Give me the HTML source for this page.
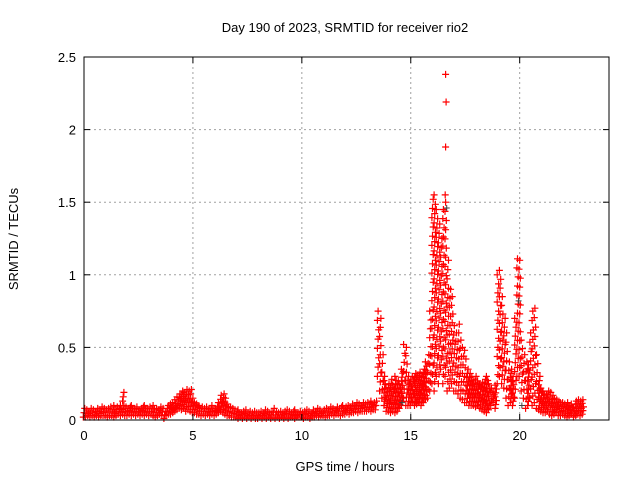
<!DOCTYPE html>
<html><head><meta charset="utf-8"><style>
html,body{margin:0;padding:0;background:#fff}
svg text{font-family:"Liberation Sans",sans-serif;font-size:13px;fill:#000}
</style></head><body>
<svg id="chart" width="640" height="480" viewBox="0 0 640 480" xmlns="http://www.w3.org/2000/svg">
<text x="345" y="32" text-anchor="middle">Day 190 of 2023, SRMTID for receiver rio2</text>
<text x="345" y="471" text-anchor="middle">GPS time / hours</text>
<text transform="translate(18,239) rotate(-90)" text-anchor="middle">SRMTID / TECUs</text>
<g id="grid"></g>
<g id="marks"></g>
<rect x="84" y="57" width="525" height="363" fill="none" stroke="#000" stroke-width="1"/>
<g id="ticks"></g>
</svg>
<script>
const xTicks=[0,5,10,15,20];
const yTicks=[0,0.5,1,1.5,2,2.5];
const yTickLabels=["0","0.5","1","1.5","2","2.5"];
const startHour=0, stepHour=0.1;
const hiVals=[
.08,.07,.06,.08,.07,.06,.08,.07,.09,.08,
.07,.08,.09,.07,.10,.09,.08,.10,.19,.09,
.08,.09,.10,.08,.09,.07,.08,.09,.10,.08,
.09,.08,.10,.08,.07,.09,.08,.06,.08,.10,
.11,.12,.14,.16,.18,.20,.19,.21,.20,.21,
.15,.12,.11,.10,.09,.08,.09,.07,.08,.10,
.08,.09,.12,.17,.18,.15,.11,.09,.08,.07,
.06,.07,.05,.06,.07,.05,.06,.05,.06,.05,
.05,.06,.05,.07,.06,.05,.06,.08,.06,.05,
.06,.05,.06,.07,.06,.05,.06,.07,.05,.06,
.05,.06,.07,.06,.05,.07,.06,.08,.07,.06,
.07,.08,.07,.09,.08,.07,.09,.08,.09,.10,
.09,.10,.09,.11,.10,.12,.11,.10,.12,.11,
.12,.11,.13,.12,.13,.75,.70,.45,.30,.22,
.25,.28,.24,.30,.27,.25,.35,.52,.50,.30,
.28,.30,.32,.31,.33,.30,.35,.40,.45,.75,
1.52,1.55,1.45,1.35,1.25,1.45,1.50,1.10,.90,.85,
.65,.60,.66,.55,.50,.48,.35,.32,.30,.28,
.30,.27,.25,.26,.28,.30,.25,.22,.20,.24,
1.0,1.03,.85,.70,.60,.40,.35,.30,.70,1.11,
1.10,.55,.45,.40,.38,.60,.75,.77,.45,.30,
.22,.20,.18,.20,.19,.17,.15,.14,.13,.12,
.12,.11,.12,.10,.11,.09,.13,.14,.13,.14];
const loVals=[
.02,.02,.03,.02,.03,.02,.03,.02,.03,.03,
.03,.02,.03,.03,.02,.03,.04,.03,.04,.03,
.03,.04,.03,.04,.03,.04,.03,.04,.03,.04,
.03,.04,.03,.02,.03,.04,.03,.01,.03,.04,
.04,.05,.06,.07,.08,.07,.08,.06,.07,.06,
.05,.05,.04,.04,.03,.04,.03,.04,.03,.04,
.03,.04,.05,.06,.05,.04,.03,.03,.02,.02,
.02,.01,.02,.01,.02,.01,.02,.01,.02,.01,
.01,.02,.01,.02,.01,.02,.01,.02,.01,.02,
.01,.02,.01,.02,.01,.02,.02,.01,.02,.02,
.02,.01,.02,.02,.01,.02,.02,.03,.02,.03,
.03,.02,.03,.03,.04,.03,.04,.04,.03,.04,
.04,.05,.04,.05,.05,.06,.05,.06,.06,.06,
.06,.07,.06,.07,.07,.30,.20,.15,.10,.06,
.06,.05,.06,.05,.06,.08,.10,.15,.10,.10,
.10,.12,.10,.11,.12,.10,.12,.14,.15,.20,
.25,.20,.30,.25,.35,.25,.30,.20,.22,.25,
.20,.20,.18,.15,.14,.12,.12,.10,.10,.10,
.09,.10,.08,.07,.06,.05,.07,.10,.12,.08,
.25,.30,.25,.22,.15,.10,.12,.10,.15,.30,
.30,.20,.15,.08,.10,.15,.10,.12,.08,.07,
.06,.05,.05,.06,.04,.03,.04,.05,.03,.03,
.04,.03,.02,.03,.04,.02,.03,.04,.03,.04];
const spikeTimes=[16.6,16.62,16.6,16.58];
const spikeVals=[2.38,2.19,1.88,1.55];
const grayTimes=[16.65,19.95,20.1,14.6];
const grayVals=[1.46,0.82,0.10,0.12];

const X0=84,X1=609,Y0=420,Y1=57,XMAX=24.1,YMAX=2.5;
const xs=t=>X0+(X1-X0)*t/XMAX;
const ys=v=>Y0-(Y0-Y1)*v/YMAX;
const NS="http://www.w3.org/2000/svg";
const grid=document.getElementById('grid'),marks=document.getElementById('marks'),ticks=document.getElementById('ticks');
function mk(tag,attrs,parent){const e=document.createElementNS(NS,tag);for(const k in attrs)e.setAttribute(k,attrs[k]);parent.appendChild(e);return e;}
xTicks.forEach(t=>{
  const x=xs(t);
  if(t>0){const g=mk('line',{x1:x,x2:x,y1:Y1,y2:Y0,stroke:'#a0a0a0','stroke-dasharray':'2,3'},grid);
  
  }
  mk('line',{x1:x,x2:x,y1:Y0,y2:Y0-6,stroke:'#000'},ticks);
  mk('line',{x1:x,x2:x,y1:Y1,y2:Y1+6,stroke:'#000'},ticks);
  const l=mk('text',{x:x,y:Y0+20,'text-anchor':'middle'},ticks);l.textContent=t;
  
  
});
yTicks.forEach((v,i)=>{
  const y=ys(v);
  if(v>0&&v<YMAX){const g=mk('line',{x1:X0,x2:X1,y1:y,y2:y,stroke:'#a0a0a0','stroke-dasharray':'2,3'},grid);
  
  }
  mk('line',{x1:X0,x2:X0+6,y1:y,y2:y,stroke:'#000'},ticks);
  mk('line',{x1:X1,x2:X1-6,y1:y,y2:y,stroke:'#000'},ticks);
  const l=mk('text',{x:X0-8,y:y+5,'text-anchor':'end'},ticks);l.textContent=yTickLabels[i];
  
  
});
let d='';
function plus(t,v){const x=xs(t),y=ys(v);d+=`M${(x-3.5).toFixed(1)} ${y.toFixed(1)}h7M${x.toFixed(1)} ${(y-3.5).toFixed(1)}v7`;}
hiVals.forEach((hi,i)=>{
  const lo=loVals[i],t=startHour+i*stepHour;
  const span=hi-lo;
  const step=span>0.3?0.065:0.03;
  const n=Math.max(2,Math.ceil(span/step));
  for(let k=0;k<=n;k++){const v=lo+span*k/n;plus(t+((k%3)-1)*0.03,v);}
});
spikeTimes.forEach((t,i)=>plus(t,spikeVals[i]));
const p=mk('path',{d:d,stroke:'#ff0000','stroke-width':'1.2',fill:'none'},marks);


let dg='';
grayTimes.forEach((t,i)=>{const x=xs(t),y=ys(grayVals[i]);dg+=`M${x-3} ${y}h6M${x} ${y-3}v6`;});
const pg=mk('path',{d:dg,stroke:'#404040','stroke-width':'1',fill:'none'},marks);


</script>
</body></html>
